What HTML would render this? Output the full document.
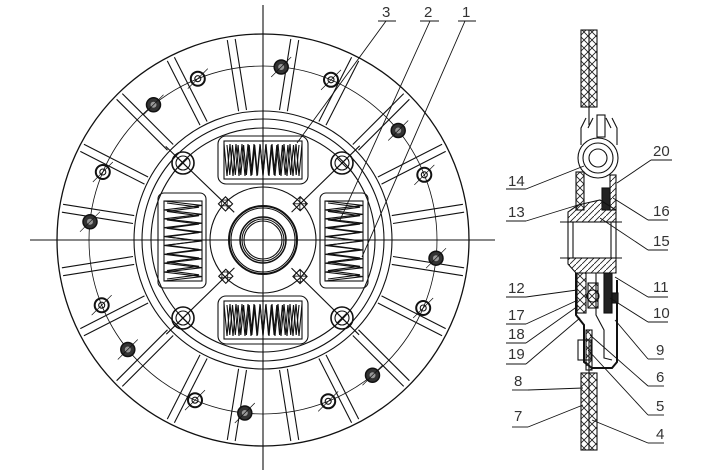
<!DOCTYPE html>
<html><head><meta charset="utf-8"><style>
html,body{margin:0;padding:0;background:#fff;width:722px;height:473px;overflow:hidden}
svg{display:block}
text{font-family:"Liberation Sans",sans-serif;font-size:15px;fill:#333;stroke:none}
</style></head><body>
<svg id="s" width="722" height="473" viewBox="0 0 722 473" xmlns="http://www.w3.org/2000/svg" stroke="#111" fill="none" stroke-width="1.1">
<defs>
<pattern id="xh" width="8" height="8" patternUnits="userSpaceOnUse"><path d="M0 0L8 8M8 0L0 8" stroke="#222" stroke-width="0.9"/></pattern>
<pattern id="hh" width="6" height="6" patternUnits="userSpaceOnUse"><path d="M0 6L6 0" stroke="#222" stroke-width="0.9"/></pattern>
</defs>
<g id="front"></g>
<line x1="30" y1="240" x2="495" y2="240"/>
<line x1="263" y1="5" x2="263" y2="470"/>
<g id="side">
<rect x="581" y="30" width="16" height="77" fill="url(#xh)"/>
<line x1="589" y1="30" x2="589" y2="107"/>
<rect x="581" y="373" width="16" height="77" fill="url(#xh)"/>
<line x1="589" y1="373" x2="589" y2="450"/>
<line x1="589" y1="107" x2="589" y2="125"/>
<line x1="589" y1="340" x2="589" y2="373"/>
<path d="M586 118 L581 128 L581 145 M593 118 L588 128"/>
<path d="M612 118 L617 128 L617 145 M606 118 L611 128"/>
<rect x="597" y="115" width="8" height="22"/>
<circle cx="598" cy="158" r="20"/><circle cx="598" cy="158" r="15"/><circle cx="598" cy="158" r="9"/>
<rect x="576" y="172" width="8" height="38" fill="url(#xh)"/>
<rect x="610" y="175" width="6" height="35" fill="url(#hh)"/>
<rect x="602" y="188" width="8" height="22" fill="#222"/>
<path d="M568 222 L568 212 L578 205 L600 200 L616 210 L616 222 Z" fill="url(#hh)"/>
<line x1="560" y1="222" x2="622" y2="222"/>
<line x1="560" y1="258" x2="622" y2="258"/>
<rect x="568" y="222" width="48" height="36"/>
<line x1="573" y1="222" x2="573" y2="258"/><line x1="611" y1="222" x2="611" y2="258"/>
<path d="M568 258 L568 264 L576 273 L616 273 L616 258 Z" fill="url(#hh)"/>
<rect x="577" y="273" width="9" height="40" fill="url(#xh)"/>
<rect x="588" y="283" width="10" height="25" fill="url(#xh)"/>
<circle cx="593" cy="296" r="6"/>
<path d="M576 273 L576 315 L584 325 L584 362 L592 368 L612 368 L617 362 L617 280" stroke-width="2"/>
<path d="M596 273 L596 315 L604 330 L604 358 L612 360"/>
<rect x="604" y="273" width="8" height="40" fill="#222"/>
<rect x="612" y="293" width="6" height="10" fill="#222"/>
<rect x="578" y="340" width="13" height="20"/>
<rect x="586" y="330" width="6" height="40" fill="url(#xh)"/>
</g>
<g stroke-width="0.9">
<text x="382" y="17">3</text><line x1="378" y1="21" x2="396" y2="21"/><line x1="386" y1="21" x2="297" y2="143"/>
<text x="424" y="17">2</text><line x1="420" y1="21" x2="439" y2="21"/><line x1="430" y1="21" x2="340" y2="220"/>
<text x="462" y="17">1</text><line x1="458" y1="21" x2="476" y2="21"/><line x1="465" y1="21" x2="362" y2="257"/>

<text x="508" y="186">14</text><line x1="506" y1="189" x2="526" y2="189"/><line x1="526" y1="189" x2="584" y2="166"/>
<text x="508" y="217">13</text><line x1="506" y1="221" x2="526" y2="221"/><line x1="526" y1="221" x2="578" y2="205"/>
<text x="508" y="293">12</text><line x1="506" y1="297" x2="526" y2="297"/><line x1="526" y1="297" x2="577" y2="290"/>
<text x="508" y="320">17</text><line x1="506" y1="324" x2="526" y2="324"/><line x1="526" y1="324" x2="578" y2="300"/>
<text x="508" y="339">18</text><line x1="506" y1="343" x2="526" y2="343"/><line x1="526" y1="343" x2="578" y2="306"/>
<text x="508" y="359">19</text><line x1="506" y1="364" x2="526" y2="364"/><line x1="526" y1="364" x2="580" y2="318"/>
<text x="514" y="386">8</text><line x1="512" y1="390" x2="528" y2="390"/><line x1="528" y1="390" x2="583" y2="388"/>
<text x="514" y="421">7</text><line x1="512" y1="427" x2="528" y2="427"/><line x1="528" y1="427" x2="583" y2="405"/>

<text x="653" y="156">20</text><line x1="651" y1="160" x2="672" y2="160"/><line x1="651" y1="160" x2="617" y2="183"/>
<text x="653" y="216">16</text><line x1="648" y1="220" x2="668" y2="220"/><line x1="648" y1="220" x2="613" y2="198"/>
<text x="653" y="246">15</text><line x1="648" y1="250" x2="668" y2="250"/><line x1="648" y1="250" x2="600" y2="218"/>
<text x="653" y="292">11</text><line x1="648" y1="297" x2="668" y2="297"/><line x1="648" y1="297" x2="615" y2="277"/>
<text x="653" y="318">10</text><line x1="648" y1="322" x2="668" y2="322"/><line x1="648" y1="322" x2="610" y2="298"/>
<text x="656" y="355">9</text><line x1="648" y1="359" x2="664" y2="359"/><line x1="648" y1="359" x2="615" y2="320"/>
<text x="656" y="382">6</text><line x1="648" y1="386" x2="664" y2="386"/><line x1="648" y1="386" x2="590" y2="335"/>
<text x="656" y="411">5</text><line x1="648" y1="415" x2="664" y2="415"/><line x1="648" y1="415" x2="588" y2="350"/>
<text x="656" y="439">4</text><line x1="648" y1="443" x2="664" y2="443"/><line x1="648" y1="443" x2="592" y2="420"/>
</g>
</svg>
<script>
(function(){
var g=document.getElementById('front'),cx=263,cy=240,h='';
function C(r,w){h+='<circle cx="'+cx+'" cy="'+cy+'" r="'+r+'"'+(w?' stroke-width="'+w+'"':'')+'/>';}
C(206,1.3);C(129);C(121);C(112);C(174,0.8);
for(var i=0;i<20;i++){var a=(i*18+9)*Math.PI/180,ca=Math.cos(a),sa=Math.sin(a);
 for(var s=-1;s<=1;s+=2){var px=-sa*4*s,py=ca*4*s;
  h+='<line x1="'+(cx+ca*131+px).toFixed(1)+'" y1="'+(cy+sa*131+py).toFixed(1)+'" x2="'+(cx+ca*203+px).toFixed(1)+'" y2="'+(cy+sa*203+py).toFixed(1)+'"/>';}}
for(var k=0;k<8;k++){[[186+45*k,1],[203+45*k,0]].forEach(function(p){var a=p[0]*Math.PI/180,x=cx+174*Math.cos(a),y=cy+174*Math.sin(a);
 if(p[1]){h+='<circle cx="'+x.toFixed(1)+'" cy="'+y.toFixed(1)+'" r="7" fill="#333" stroke-width="1.5"/><circle cx="'+x.toFixed(1)+'" cy="'+y.toFixed(1)+'" r="3" fill="#999" stroke="none"/>';}
 else{h+='<circle cx="'+x.toFixed(1)+'" cy="'+y.toFixed(1)+'" r="7" stroke-width="2"/><circle cx="'+x.toFixed(1)+'" cy="'+y.toFixed(1)+'" r="3"/>';}
 h+='<line x1="'+(x-10)+'" y1="'+(y+10)+'" x2="'+(x+10)+'" y2="'+(y-10)+'" stroke-width="0.7"/>';});}
function coilH(x0,y0,w,hh,n){var d='M'+x0+' '+y0;for(var j=0;j<n;j++){var x=x0+(j+0.5)*w/n;d+=' L'+x.toFixed(1)+' '+(y0+hh)+' L'+(x0+(j+1)*w/n).toFixed(1)+' '+y0;}return '<path d="'+d+'"/>';}
function coilV(x0,y0,w,hh,n){var d='M'+x0+' '+y0;for(var j=0;j<n;j++){var y=y0+(j+0.5)*hh/n;d+=' L'+(x0+w)+' '+y.toFixed(1)+' L'+x0+' '+(y0+(j+1)*hh/n).toFixed(1);}return '<path d="'+d+'"/>';}
h+='<rect x="218" y="136" width="90" height="48" rx="8"/><rect x="224" y="141" width="78" height="38"/>'+coilH(224,144,78,32,13)+coilH(227,145,72,30,13);
h+='<rect x="218" y="296" width="90" height="48" rx="8"/><rect x="224" y="301" width="78" height="38"/>'+coilH(224,304,78,32,13)+coilH(227,305,72,30,13);
h+='<rect x="158" y="193" width="48" height="95" rx="6"/><rect x="164" y="201" width="38" height="80"/>'+coilV(164,201,38,80,9)+coilV(167,203,32,76,9);
h+='<rect x="320" y="193" width="48" height="95" rx="6"/><rect x="325" y="201" width="38" height="80"/>'+coilV(325,201,38,80,9)+coilV(328,203,32,76,9);
[[183,163],[342,163],[183,318],[342,318]].forEach(function(p){var x=p[0],y=p[1];
 h+='<circle cx="'+x+'" cy="'+y+'" r="11" stroke-width="1.6"/><circle cx="'+x+'" cy="'+y+'" r="7"/>';
 h+='<line x1="'+(x-5)+'" y1="'+(y-5)+'" x2="'+(x+5)+'" y2="'+(y+5)+'"/><line x1="'+(x-5)+'" y1="'+(y+5)+'" x2="'+(x+5)+'" y2="'+(y-5)+'"/>';
 var dx=(x-cx),dy=(y-cy),L=Math.sqrt(dx*dx+dy*dy);
 h+='<line x1="'+(cx+dx/L*40).toFixed(1)+'" y1="'+(cy+dy/L*40).toFixed(1)+'" x2="'+(cx+dx/L*135).toFixed(1)+'" y2="'+(cy+dy/L*135).toFixed(1)+'"/>';
 var lx=cx+dx/L*52,ly=cy+dy/L*52;
 h+='<rect x="'+(lx-5).toFixed(1)+'" y="'+(ly-5).toFixed(1)+'" width="10" height="10" transform="rotate(45 '+lx.toFixed(1)+' '+ly.toFixed(1)+')" fill="url(#xh)"/>';});
C(53);C(34,2);C(32);C(23,1.5);C(21);C(19);
g.innerHTML=h;
})();
</script>
</body></html>
